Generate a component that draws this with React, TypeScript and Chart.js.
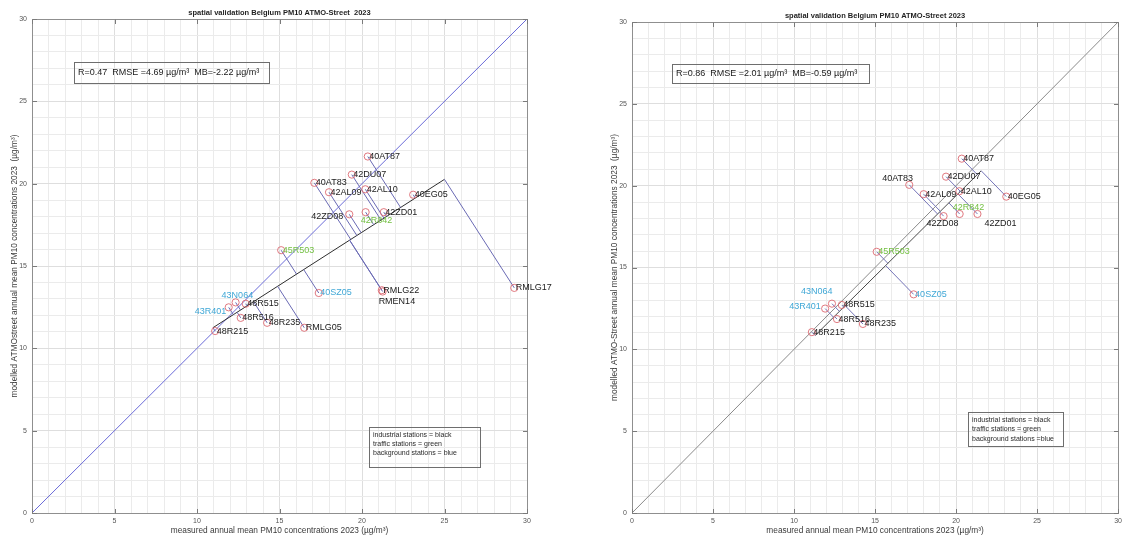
import React, { useEffect, useRef } from 'react';
import { Chart, registerables } from 'chart.js';

Chart.register(...registerables);

const FONT = '"Liberation Sans", Arial, Helvetica, sans-serif';

// Monitoring stations and their 2023 annual mean PM10 (µg/m³)
const stationNames = [
  '40AT87', '42DU07', '40AT83', '42AL09', '42AL10', '40EG05', '42ZD08', '42R842', '42ZD01',
  '45R503', '40SZ05', '43N064', '48R515', '43R401', '48R516', '48R235', '48R215',
  'RMLG05', 'RMLG17', 'RMLG22', 'RMEN14',
];
const measuredPM10 = [
  20.35, 19.38, 17.11, 18.0, 20.2, 23.1, 19.23, 20.22, 21.32,
  15.1, 17.38, 12.34, 12.95, 11.92, 12.65, 14.25, 11.1,
  16.5, 29.23, 21.2, 21.25,
];
const modelledPM10 = [
  21.65, 20.55, 20.05, 19.48, 19.66, 19.33, 18.14, 18.27, 18.27,
  15.96, 13.36, 12.79, 12.71, 12.49, 11.85, 11.55, 11.05,
  11.25, 13.67, 13.53, 13.45,
];
const stationTypes = [
  'industrial', 'industrial', 'industrial', 'industrial', 'industrial', 'industrial', 'industrial', 'traffic', 'industrial',
  'traffic', 'background', 'background', 'industrial', 'background', 'industrial', 'industrial', 'industrial',
  'industrial', 'industrial', 'industrial', 'industrial',
];
// stations left out of the second validation run
const excludedSecondRun = ['RMLG05', 'RMLG17', 'RMLG22', 'RMEN14'];

const axisMin = 0;
const axisMax = 30;
const majorTicks = [0, 5, 10, 15, 20, 25, 30];

const titleFirst = 'spatial validation Belgium PM10 ATMO-Street  2023';
const titleSecond = 'spatial validation Belgium PM10 ATMO-Street 2023';
const xTitle = 'measured annual mean PM10 concentrations 2023 (µg/m³)';
const yTitleFirst = 'modelled ATMOstreet annual mean PM10 concentrations 2023  (µg/m³)';
const yTitleSecond = 'modelled ATMO-Street annual mean PM10 concentrations 2023  (µg/m³)';
const statsFirst = 'R=0.47  RMSE =4.69 µg/m³  MB=-2.22 µg/m³';
const statsSecond = 'R=0.86  RMSE =2.01 µg/m³  MB=-0.59 µg/m³';
const legendFirst = ['industrial stations = black', 'traffic stations = green', 'background stations = blue'];
const legendSecond = ['industrial stations = black', 'traffic stations = green', 'background stations =blue'];

const typeColors: Record<string, string> = {
  industrial: '#1a1a1a',
  traffic: '#74c043',
  background: '#3fa7d6',
};

// label placement (text left edge / vertical middle, px from the marker)
const labelOffsetsFirst: Record<string, [number, number]> = {
  '42ZD08': [-38, 2],
  '42R842': [-5, 8],
  RMEN14: [-4, 10],
  '43N064': [-14, -7],
  '43R401': [-34, 4],
};
const labelOffsetsSecond: Record<string, [number, number]> = {
  '40AT83': [-27, -6],
  '42ZD08': [-17, 7],
  '42R842': [-7, -6],
  '42ZD01': [7, 10],
  '43N064': [-31, -12],
  '43R401': [-36, -2],
};

type PanelSpec = {
  left: number;
  width: number;
  areaLeft: number;
  padRight: number;
  padTop: number;
  title: string;
  yTitle: string;
  stats: string;
  statsBox: { x: number; y: number; w: number; h: number };
  legend: string[];
  legendBox: { x: number; y: number; w: number; h: number; line: number };
  offsets: Record<string, [number, number]>;
  identityColor: string;
  fitColor: string;
  residualColor: string;
  excluded: string[];
};

const panelSpecs: PanelSpec[] = [
  {
    left: 0,
    width: 563,
    areaLeft: 32,
    padRight: 36,
    padTop: 19,
    title: titleFirst,
    yTitle: yTitleFirst,
    stats: statsFirst,
    statsBox: { x: 74, y: 62, w: 195, h: 21 },
    legend: legendFirst,
    legendBox: { x: 369, y: 427, w: 111, h: 40, line: 9.2 },
    offsets: labelOffsetsFirst,
    identityColor: '#6b6bd8',
    fitColor: '#2e2e2e',
    residualColor: '#6a6ab4',
    excluded: [],
  },
  {
    left: 563,
    width: 563,
    areaLeft: 69,
    padRight: 2,
    padTop: 22,
    title: titleSecond,
    yTitle: yTitleSecond,
    stats: statsSecond,
    statsBox: { x: 109, y: 64, w: 197, h: 19 },
    legend: legendSecond,
    legendBox: { x: 405, y: 412, w: 95, h: 34, line: 9.4 },
    offsets: labelOffsetsSecond,
    identityColor: '#8a8a8a',
    fitColor: '#4a4a4a',
    residualColor: '#7474b8',
    excluded: excludedSecondRun,
  },
];

// Orthogonal (total least squares) fit with the perpendicular foot of every point
function orthogonalFit(xs: number[], ys: number[]) {
  const n = xs.length;
  const mx = xs.reduce((s, v) => s + v, 0) / n;
  const my = ys.reduce((s, v) => s + v, 0) / n;
  let sxx = 0, syy = 0, sxy = 0;
  for (let i = 0; i < n; i++) {
    const dx = xs[i] - mx, dy = ys[i] - my;
    sxx += dx * dx; syy += dy * dy; sxy += dx * dy;
  }
  const theta = 0.5 * Math.atan2(2 * sxy, sxx - syy);
  const ux = Math.cos(theta), uy = Math.sin(theta);
  const t = xs.map((x, i) => (x - mx) * ux + (ys[i] - my) * uy);
  const feet = t.map((ti) => ({ x: mx + ti * ux, y: my + ti * uy }));
  const tMin = Math.min(...t), tMax = Math.max(...t);
  return {
    feet,
    line: [
      { x: mx + tMin * ux, y: my + tMin * uy },
      { x: mx + tMax * ux, y: my + tMax * uy },
    ],
  };
}

function Panel({ spec }: { spec: PanelSpec }) {
  const ref = useRef<HTMLCanvasElement>(null);

  useEffect(() => {
    const idx = stationNames
      .map((_, i) => i)
      .filter((i) => !spec.excluded.includes(stationNames[i]));
    const names = idx.map((i) => stationNames[i]);
    const xs = idx.map((i) => measuredPM10[i]);
    const ys = idx.map((i) => modelledPM10[i]);
    const types = idx.map((i) => stationTypes[i]);
    const fit = orthogonalFit(xs, ys);
    const points = xs.map((x, i) => ({ x, y: ys[i] }));

    const residualSets = points.map((p, i) => ({
      data: [p, fit.feet[i]],
      showLine: true,
      pointRadius: 0,
      borderColor: spec.residualColor,
      borderWidth: 1,
    }));

    const overlay = {
      id: 'panelOverlay',
      afterDraw(chart: any) {
        const { ctx, chartArea: a, scales } = chart;
        const sx = scales.x, sy = scales.y;
        ctx.save();

        // axes box
        ctx.strokeStyle = '#8f8f8f';
        ctx.lineWidth = 1;
        const L = Math.round(a.left) + 0.5, T = Math.round(a.top) + 0.5;
        const R = Math.round(a.right) + 0.5, B = Math.round(a.bottom) + 0.5;
        ctx.strokeRect(L, T, R - L, B - T);

        // inward tick marks
        ctx.beginPath();
        majorTicks.forEach((v) => {
          const px = Math.round(sx.getPixelForValue(v)) + 0.5;
          ctx.moveTo(px, B); ctx.lineTo(px, B - 4.5);
          ctx.moveTo(px, T); ctx.lineTo(px, T + 4.5);
          const py = Math.round(sy.getPixelForValue(v)) + 0.5;
          ctx.moveTo(L, py); ctx.lineTo(L + 4.5, py);
          ctx.moveTo(R, py); ctx.lineTo(R - 4.5, py);
        });
        ctx.strokeStyle = '#7a7a7a';
        ctx.stroke();

        // station labels
        ctx.font = `9px ${FONT}`;
        ctx.textBaseline = 'middle';
        ctx.textAlign = 'left';
        names.forEach((name, i) => {
          const px = sx.getPixelForValue(xs[i]);
          const py = sy.getPixelForValue(ys[i]);
          const [dx, dy] = spec.offsets[name] || [1.5, 0];
          ctx.fillStyle = typeColors[types[i]];
          ctx.fillText(name, px + dx, py + dy);
        });

        // statistics box
        const sb = spec.statsBox;
        ctx.strokeStyle = '#6e6e6e';
        ctx.strokeRect(sb.x + 0.5, sb.y + 0.5, sb.w, sb.h);
        ctx.fillStyle = '#1a1a1a';
        ctx.font = `9px ${FONT}`;
        ctx.fillText(spec.stats, sb.x + 4, sb.y + sb.h / 2 + 0.5);

        // station type key
        const lb = spec.legendBox;
        ctx.strokeRect(lb.x + 0.5, lb.y + 0.5, lb.w, lb.h);
        ctx.font = `7px ${FONT}`;
        ctx.fillStyle = '#2a2a2a';
        spec.legend.forEach((line, i) => {
          ctx.fillText(line, lb.x + 4, lb.y + 8 + i * lb.line);
        });

        // title and axis titles
        const cx = (a.left + a.right) / 2;
        ctx.textAlign = 'center';
        ctx.fillStyle = '#1f1f1f';
        ctx.font = `bold 7.5px ${FONT}`;
        ctx.fillText(spec.title, cx, a.top - 6);
        ctx.font = `8.3px ${FONT}`;
        ctx.fillStyle = '#3a3a3a';
        ctx.fillText(xTitle, cx, a.bottom + 18);
        ctx.translate(a.left - 17, (a.top + a.bottom) / 2);
        ctx.rotate(-Math.PI / 2);
        ctx.fillText(spec.yTitle, 0, 0);
        ctx.restore();
      },
    };

    const gridColor = (ctx: any) =>
      ctx.tick && ctx.tick.value % 5 === 0 ? '#dedede' : '#ebebeb';
    const tickLabel = (v: any) => (Number(v) % 5 === 0 ? String(v) : '');

    const chart = new Chart(ref.current as HTMLCanvasElement, {
      type: 'scatter',
      data: {
        datasets: [
          {
            data: points,
            pointRadius: 3.6,
            pointBorderWidth: 0.9,
            pointBorderColor: '#dc6a72',
            pointBackgroundColor: 'rgba(0,0,0,0)',
          },
          ...residualSets,
          {
            data: fit.line,
            showLine: true,
            pointRadius: 0,
            borderColor: spec.fitColor,
            borderWidth: 1,
          },
          {
            data: [{ x: axisMin, y: axisMin }, { x: axisMax, y: axisMax }],
            showLine: true,
            pointRadius: 0,
            borderColor: spec.identityColor,
            borderWidth: 1,
          },
        ] as any,
      },
      options: {
        responsive: false,
        animation: false,
        devicePixelRatio: 1,
        layout: { padding: { left: 0, right: spec.padRight, top: spec.padTop, bottom: 0 } },
        plugins: {
          legend: { display: false },
          tooltip: { enabled: false },
          title: { display: false },
        },
        scales: {
          x: {
            type: 'linear',
            min: axisMin,
            max: axisMax,
            afterFit: (s: any) => { s.height = 27; },
            ticks: {
              stepSize: 1,
              autoSkip: false,
              maxRotation: 0,
              padding: 4,
              callback: tickLabel,
              color: '#555',
              font: { size: 7, family: FONT },
            },
            grid: { color: gridColor, drawTicks: false, lineWidth: 1 },
            border: { display: true, color: '#8f8f8f' },
          },
          y: {
            type: 'linear',
            min: axisMin,
            max: axisMax,
            afterFit: (s: any) => { s.width = spec.areaLeft; },
            ticks: {
              stepSize: 1,
              autoSkip: false,
              padding: 5,
              callback: tickLabel,
              color: '#555',
              font: { size: 7, family: FONT },
            },
            grid: { color: gridColor, drawTicks: false, lineWidth: 1 },
            border: { display: true, color: '#8f8f8f' },
          },
        },
      } as any,
      plugins: [overlay],
    });
    return () => chart.destroy();
  }, [spec]);

  return (
    <canvas
      ref={ref}
      width={spec.width}
      height={540}
      style={{ position: 'absolute', left: spec.left, top: 0, width: spec.width, height: 540 }}
    />
  );
}

export default function App() {
  return (
    <div style={{ position: 'fixed', left: 0, top: 0, width: 1126, height: 540, background: '#fff' }}>
      {panelSpecs.map((spec, i) => (
        <Panel key={i} spec={spec} />
      ))}
    </div>
  );
}
